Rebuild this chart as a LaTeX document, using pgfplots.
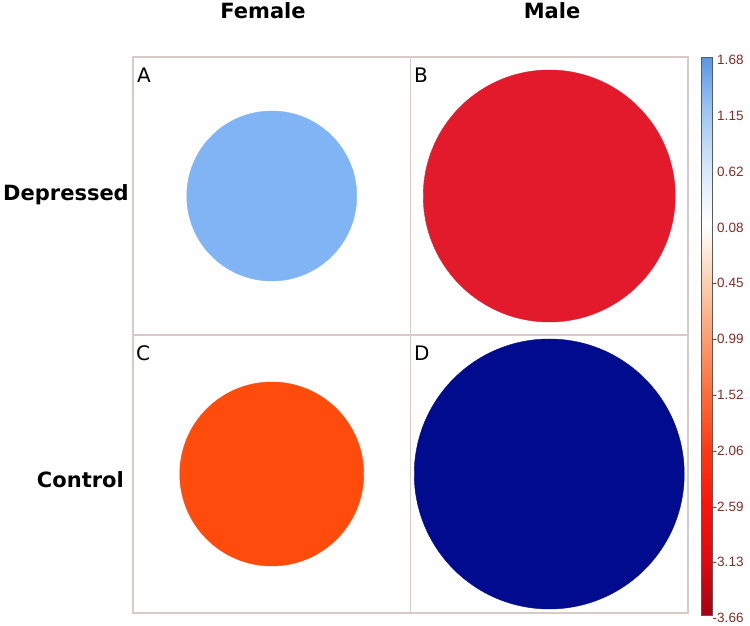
\documentclass[border=0pt]{standalone}
\usepackage{fontspec}
\setmainfont{DejaVu Sans}
\newfontfamily\lib{Liberation Sans}
\usepackage{pgfplots}
\pgfplotsset{compat=1.18}
\definecolor{gridc}{RGB}{217,202,202}
\definecolor{cA}{RGB}{128,180,244}
\definecolor{cB}{RGB}{226,26,43}
\definecolor{cC}{RGB}{255,76,13}
\definecolor{cD}{RGB}{0,11,141}
\definecolor{labc}{RGB}{130,45,35}
\begin{document}
\begin{tikzpicture}[x=1pt,y=1pt]
\useasboundingbox (0,0) rectangle (750,626);
\begin{axis}[
  at={(133pt,13pt)}, anchor=south west,
  scale only axis, width=555pt, height=556pt,
  xmin=0, xmax=2, ymin=0, ymax=2,
  xtick={1}, ytick={1}, xticklabels={}, yticklabels={},
  major tick length=0pt,
  grid=major, grid style={draw=gridc, line width=1.2pt},
  axis line style={draw=gridc, line width=1.2pt},
  clip=false,
  colormap={corr}{rgb255=(165,0,20) rgb255=(225,10,15) rgb255=(250,20,10) rgb255=(255,60,20) rgb255=(255,110,60) rgb255=(250,160,115) rgb255=(252,210,180) rgb255=(255,255,255) rgb255=(215,232,250) rgb255=(160,200,242) rgb255=(90,150,228)},
  point meta min=-3.66, point meta max=1.68,
  colorbar,
  colorbar style={
    at={(parent axis.north east)}, anchor=north west, xshift=5pt,
    scale only axis, width=11pt, height=558pt,
    axis line style={draw=black!65, line width=0.6pt},
    ytick={1.68,1.146,0.612,0.078,-0.456,-0.99,-1.524,-2.058,-2.592,-3.126,-3.66},
    yticklabels={1.68,1.15,0.62,0.08,\llap{-}0.45,\llap{-}0.99,\llap{-}1.52,\llap{-}2.06,\llap{-}2.59,\llap{-}3.13,\llap{-}3.66},
    yticklabel style={font=\lib\fontsize{13.5}{15}\selectfont, color=labc, anchor=west, inner sep=0pt, xshift=4.5pt, yshift=-3pt},
    major tick length=0pt,
  },
]
\addplot[color=cA, only marks, mark=*, mark size=85pt] coordinates {(0.5,1.5)};
\addplot[color=cB, only marks, mark=*, mark size=126pt] coordinates {(1.5,1.5)};
\addplot[color=cC, only marks, mark=*, mark size=92pt] coordinates {(0.5,0.5)};
\addplot[color=cD, only marks, mark=*, mark size=135pt] coordinates {(1.5,0.5)};
\end{axis}
\tikzset{bl/.style={font=\bfseries\fontsize{21}{25}\selectfont, inner sep=0pt}, pl/.style={font=\fontsize{20}{24}\selectfont, inner sep=0pt, anchor=base west}}
\node[bl, anchor=base] at (263,607) {Female};
\node[bl, anchor=base] at (552,607) {Male};
\node[bl, anchor=base east] at (129,425) {Depressed};
\node[bl, anchor=base east] at (124,138) {Control};
\node[pl] at (137,543) {A};
\node[pl] at (414,543) {B};
\node[pl] at (136,265) {C};
\node[pl] at (414,265) {D};
\end{tikzpicture}
\end{document}
